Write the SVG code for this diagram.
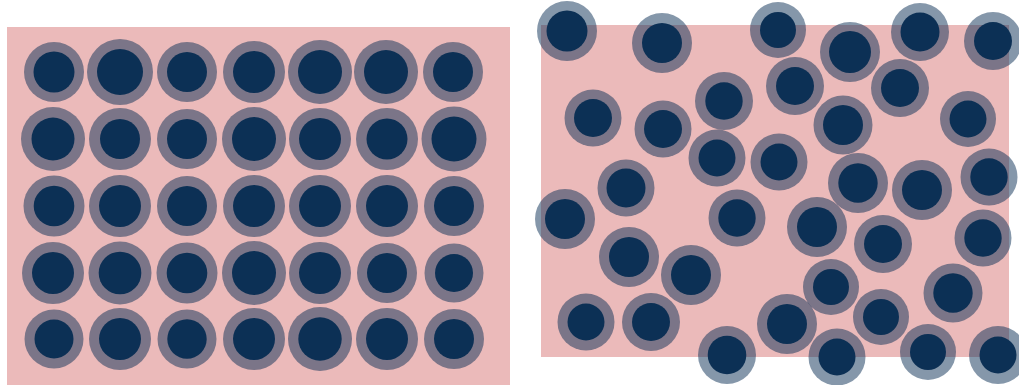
<svg xmlns="http://www.w3.org/2000/svg" width="1019" height="385" viewBox="0 0 1019 385">
<style>
.bg{fill:#ebbaba}
.ring{fill:#0c3055;fill-opacity:0.5}
.core{fill:#0c3055}
</style>
<rect width="1019" height="385" fill="#ffffff"/>
<g id="ordered">
<rect class="bg" x="7" y="27" width="503" height="358"/>
<g id="grid-rings">
<circle class="ring" cx="54" cy="72" r="30"/><circle class="ring" cx="120" cy="72" r="33"/><circle class="ring" cx="187" cy="72" r="30"/><circle class="ring" cx="254" cy="72" r="31"/><circle class="ring" cx="320" cy="72" r="32"/><circle class="ring" cx="386" cy="72" r="32"/><circle class="ring" cx="453" cy="72" r="30"/>
<circle class="ring" cx="53" cy="139" r="32"/><circle class="ring" cx="120" cy="139" r="31"/><circle class="ring" cx="187" cy="139" r="30"/><circle class="ring" cx="254" cy="139" r="32"/><circle class="ring" cx="320" cy="139" r="31"/><circle class="ring" cx="387" cy="139" r="31"/><circle class="ring" cx="454" cy="139" r="32.5"/>
<circle class="ring" cx="54" cy="206" r="30.5"/><circle class="ring" cx="120" cy="206" r="31"/><circle class="ring" cx="187" cy="206" r="30"/><circle class="ring" cx="254" cy="206" r="31"/><circle class="ring" cx="320" cy="206" r="31"/><circle class="ring" cx="387" cy="206" r="31"/><circle class="ring" cx="454" cy="206" r="30"/>
<circle class="ring" cx="53" cy="273" r="31"/><circle class="ring" cx="120" cy="273" r="31.5"/><circle class="ring" cx="187" cy="273" r="30.5"/><circle class="ring" cx="254" cy="273" r="32"/><circle class="ring" cx="320" cy="273" r="31"/><circle class="ring" cx="387" cy="273" r="30"/><circle class="ring" cx="454" cy="273" r="29.5"/>
<circle class="ring" cx="54" cy="339" r="29.5"/><circle class="ring" cx="120" cy="339" r="31"/><circle class="ring" cx="187" cy="339" r="29.5"/><circle class="ring" cx="254" cy="339" r="31"/><circle class="ring" cx="320" cy="339" r="32"/><circle class="ring" cx="387" cy="339" r="31"/><circle class="ring" cx="454" cy="339" r="30"/>
</g>
<g id="grid-cores">
<circle class="core" cx="54" cy="72" r="20.5"/><circle class="core" cx="120" cy="72" r="23"/><circle class="core" cx="187" cy="72" r="20"/><circle class="core" cx="254" cy="72" r="21"/><circle class="core" cx="320" cy="72" r="22"/><circle class="core" cx="386" cy="72" r="22"/><circle class="core" cx="453" cy="72" r="20"/>
<circle class="core" cx="53" cy="139" r="21.5"/><circle class="core" cx="120" cy="139" r="20"/><circle class="core" cx="187" cy="139" r="20"/><circle class="core" cx="254" cy="139" r="22"/><circle class="core" cx="320" cy="139" r="21"/><circle class="core" cx="387" cy="139" r="20.5"/><circle class="core" cx="454" cy="139" r="22.5"/>
<circle class="core" cx="54" cy="206" r="20.3"/><circle class="core" cx="120" cy="206" r="21"/><circle class="core" cx="187" cy="206" r="20"/><circle class="core" cx="254" cy="206" r="21"/><circle class="core" cx="320" cy="206" r="21"/><circle class="core" cx="387" cy="206" r="21"/><circle class="core" cx="454" cy="206" r="20"/>
<circle class="core" cx="53" cy="273" r="21"/><circle class="core" cx="120" cy="273" r="21.3"/><circle class="core" cx="187" cy="273" r="20.3"/><circle class="core" cx="254" cy="273" r="22"/><circle class="core" cx="320" cy="273" r="21"/><circle class="core" cx="387" cy="273" r="20"/><circle class="core" cx="454" cy="273" r="19"/>
<circle class="core" cx="54" cy="339" r="19.5"/><circle class="core" cx="120" cy="339" r="21"/><circle class="core" cx="187" cy="339" r="19.7"/><circle class="core" cx="254" cy="339" r="21"/><circle class="core" cx="320" cy="339" r="21.7"/><circle class="core" cx="387" cy="339" r="21"/><circle class="core" cx="454" cy="339" r="20"/>
</g>
</g>
<g id="random">
<rect class="bg" x="541" y="25" width="468" height="332"/>
<g id="random-rings">
<circle class="ring" cx="567" cy="31" r="30"/><circle class="ring" cx="662" cy="43" r="30"/><circle class="ring" cx="778" cy="30" r="28"/><circle class="ring" cx="850" cy="52" r="30"/><circle class="ring" cx="920" cy="32" r="29"/><circle class="ring" cx="993" cy="41" r="29"/>
<circle class="ring" cx="795" cy="86" r="29"/><circle class="ring" cx="900" cy="88" r="29"/><circle class="ring" cx="724" cy="101" r="29"/><circle class="ring" cx="593" cy="118" r="28.5"/><circle class="ring" cx="663" cy="129" r="28.5"/><circle class="ring" cx="843" cy="125" r="29.5"/><circle class="ring" cx="968" cy="119" r="28"/>
<circle class="ring" cx="717" cy="158" r="28.5"/><circle class="ring" cx="779" cy="162" r="28.5"/><circle class="ring" cx="626" cy="188" r="28.5"/><circle class="ring" cx="858" cy="183" r="30"/><circle class="ring" cx="922" cy="190" r="30"/><circle class="ring" cx="989" cy="177" r="28.5"/>
<circle class="ring" cx="565" cy="219" r="30"/><circle class="ring" cx="737" cy="218" r="28.5"/><circle class="ring" cx="817" cy="227" r="30"/><circle class="ring" cx="883" cy="244" r="29"/><circle class="ring" cx="983" cy="238" r="28.5"/>
<circle class="ring" cx="629" cy="257" r="30"/><circle class="ring" cx="691" cy="275" r="30"/><circle class="ring" cx="831" cy="287" r="28"/><circle class="ring" cx="953" cy="293" r="29.5"/>
<circle class="ring" cx="586" cy="322" r="28.5"/><circle class="ring" cx="651" cy="322" r="29"/><circle class="ring" cx="787" cy="324" r="30"/><circle class="ring" cx="881" cy="317" r="28"/>
<circle class="ring" cx="727" cy="355" r="29"/><circle class="ring" cx="837" cy="357" r="28.5"/><circle class="ring" cx="928" cy="352" r="28"/><circle class="ring" cx="998" cy="355" r="29"/>
</g>
<g id="random-cores">
<circle class="core" cx="567" cy="31" r="20.5"/><circle class="core" cx="662" cy="43" r="20"/><circle class="core" cx="778" cy="30" r="18"/><circle class="core" cx="850" cy="52" r="21"/><circle class="core" cx="920" cy="32" r="19.5"/><circle class="core" cx="993" cy="41" r="19"/>
<circle class="core" cx="795" cy="86" r="19"/><circle class="core" cx="900" cy="88" r="19"/><circle class="core" cx="724" cy="101" r="18.7"/><circle class="core" cx="593" cy="118" r="19"/><circle class="core" cx="663" cy="129" r="19"/><circle class="core" cx="843" cy="125" r="20"/><circle class="core" cx="968" cy="119" r="18.5"/>
<circle class="core" cx="717" cy="158" r="18.5"/><circle class="core" cx="779" cy="162" r="18.5"/><circle class="core" cx="626" cy="188" r="19.5"/><circle class="core" cx="858" cy="183" r="19.7"/><circle class="core" cx="922" cy="190" r="20"/><circle class="core" cx="989" cy="177" r="18.7"/>
<circle class="core" cx="565" cy="219" r="20"/><circle class="core" cx="737" cy="218" r="18.7"/><circle class="core" cx="817" cy="227" r="20"/><circle class="core" cx="883" cy="244" r="19"/><circle class="core" cx="983" cy="238" r="18.7"/>
<circle class="core" cx="629" cy="257" r="20"/><circle class="core" cx="691" cy="275" r="20"/><circle class="core" cx="831" cy="287" r="18"/><circle class="core" cx="953" cy="293" r="19.7"/>
<circle class="core" cx="586" cy="322" r="18.5"/><circle class="core" cx="651" cy="322" r="19"/><circle class="core" cx="787" cy="324" r="20"/><circle class="core" cx="881" cy="317" r="18"/>
<circle class="core" cx="727" cy="355" r="19.3"/><circle class="core" cx="837" cy="357" r="18.5"/><circle class="core" cx="928" cy="352" r="18"/><circle class="core" cx="998" cy="355" r="18.5"/>
</g>
</g>
</svg>
